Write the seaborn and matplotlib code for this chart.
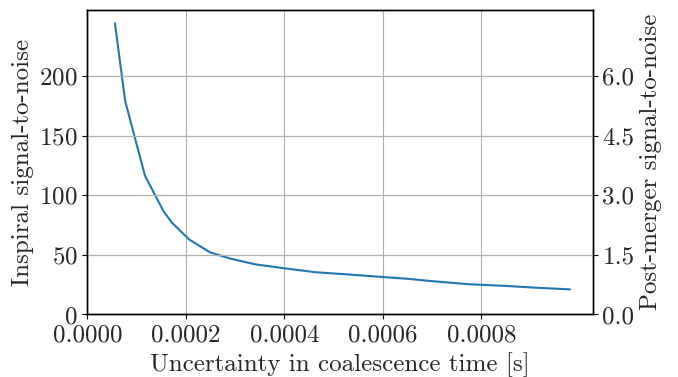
import matplotlib
matplotlib.use("Agg")
import matplotlib.pyplot as plt
import seaborn as sns
import pandas as pd
from matplotlib.ticker import MultipleLocator, FormatStrFormatter

# Data
uncertainty_s = [5.6e-5, 7.7e-5, 1.17e-4, 1.55e-4, 1.72e-4, 2.07e-4, 2.49e-4,
                 2.9e-4, 3.41e-4, 4.0e-4, 4.63e-4, 5.3e-4, 6.02e-4, 6.5e-4,
                 7.0e-4, 7.75e-4, 8.5e-4, 9.1e-4, 9.8e-4]
inspiral_snr = [244.5, 179.0, 116.6, 86.5, 77.0, 62.9, 52.2, 47.0, 42.1, 38.8,
                35.5, 33.6, 31.4, 30.0, 28.0, 25.4, 24.0, 22.5, 21.1]
postmerger_ratio = 0.03
right_ticks = [0.0, 1.5, 3.0, 4.5, 6.0]
x_ticks = [0.0, 0.0002, 0.0004, 0.0006, 0.0008]

sns.set_style("ticks")
plt.rcParams["font.family"] = ["cmr10", "DejaVu Serif"]
plt.rcParams["mathtext.fontset"] = "cm"
plt.rcParams["axes.formatter.use_mathtext"] = True
plt.rcParams["axes.unicode_minus"] = False

df = pd.DataFrame({"x": uncertainty_s, "y": inspiral_snr})

fig = plt.figure(figsize=(6.78, 3.77), dpi=100)
ax = fig.add_axes([0.1288, 0.1658, 0.8742 - 0.1288, 0.9735 - 0.1658])
sns.lineplot(data=df, x="x", y="y", ax=ax, color="#1f77b4", linewidth=1.5)

ax.set_xlim(left=0)
ax.set_ylim(bottom=0)
ax.set_xticks(x_ticks)
ax.xaxis.set_major_formatter(FormatStrFormatter("%.4f"))
ax.set_yticks([0, 50, 100, 150, 200])
ax.grid(True, color="#b0b0b0", linewidth=0.8)
ax.set_xlabel("Uncertainty in coalescence time [s]", fontsize=18)
ax.set_ylabel("Inspiral signal-to-noise", fontsize=18)
ax.tick_params(labelsize=18, direction="out", length=3.5, width=0.8, color="black")
for s in ax.spines.values():
    s.set_color("black")
    s.set_linewidth(1.0)

ax2 = ax.twinx()
lo, hi = ax.get_ylim()
ax2.set_ylim(lo * postmerger_ratio, hi * postmerger_ratio)
ax2.set_yticks(right_ticks)
ax2.yaxis.set_major_formatter(FormatStrFormatter("%.1f"))
ax2.grid(True, color="#b0b0b0", linewidth=0.8)
ax2.set_ylabel("Post-merger signal-to-noise", fontsize=18)
ax2.tick_params(labelsize=18, direction="out", length=3.5, width=0.8, color="black")
for s in ax2.spines.values():
    s.set_color("black")
    s.set_linewidth(1.0)

fig.savefig("out.png", dpi=100)
